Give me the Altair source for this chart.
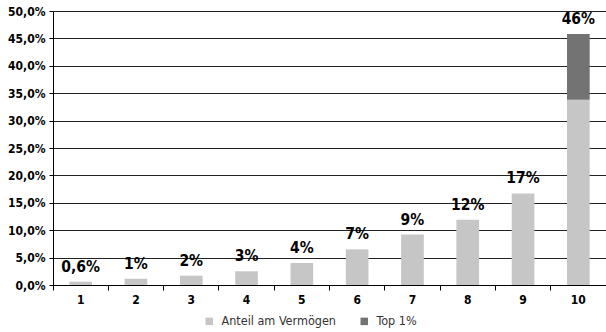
import altair as alt
import pandas as pd

deciles = ["1", "2", "3", "4", "5", "6", "7", "8", "9", "10"]
anteil = [0.6, 1.15, 1.7, 2.5, 4.0, 6.5, 9.2, 11.9, 16.7, 33.8]
top1 = [0, 0, 0, 0, 0, 0, 0, 0, 0, 12.0]
labels = ["0,6%", "1%", "2%", "3%", "4%", "7%", "9%", "12%", "17%", "46%"]
series = ["Anteil am Vermögen", "Top 1%"]
colors = ["#c6c6c6", "#737373"]
y_ticks = [0, 0.05, 0.10, 0.15, 0.20, 0.25, 0.30, 0.35, 0.40, 0.45, 0.50]

FONT = "'Liberation Sans Narrow', 'DejaVu Sans Condensed', 'Roboto Condensed', 'Arial Narrow', 'Roboto', sans-serif"

rows = []
for d, a, t in zip(deciles, anteil, top1):
    rows.append({"dezil": d, "serie": series[0], "wert": a / 100, "ord": 0})
    if t > 0:
        rows.append({"dezil": d, "serie": series[1], "wert": t / 100, "ord": 1})
df = pd.DataFrame(rows)
lab = pd.DataFrame({
    "dezil": deciles,
    "total": [(a + t) / 100 for a, t in zip(anteil, top1)],
    "label": labels,
})

x_axis = alt.Axis(title=None, labelAngle=0, bandPosition=0, tickSize=5,
                  tickColor="black", domainColor="black", labelFont=FONT,
                  labelFontWeight="bold", labelFontSize=12, labelColor="black",
                  labelPadding=4, grid=False)
y_axis = alt.Axis(title=None, values=y_ticks, tickSize=4, labelOverlap=False,
                  tickColor="black", domainColor="black",
                  gridColor="#222222", gridOpacity=1,
                  labelExpr="replace(format(datum.value, '.1%'), '.', ',')",
                  labelFont=FONT, labelFontWeight="bold",
                  labelFontSize=12, labelColor="black", labelPadding=4)
y_scale = alt.Scale(domain=[0, 0.5], nice=False)
x_scale = alt.Scale(paddingInner=0, paddingOuter=0)

bars = alt.Chart(df).mark_bar(width={"band": 0.41}).encode(
    x=alt.X("dezil:N", sort=deciles, scale=x_scale, axis=x_axis),
    y=alt.Y("wert:Q", stack="zero", scale=y_scale, axis=y_axis),
    color=alt.Color("serie:N", scale=alt.Scale(domain=series, range=colors),
                    legend=alt.Legend(title=None, orient="none", direction="horizontal",
                                      legendX=150, legendY=304, symbolType="square",
                                      symbolSize=56, symbolStrokeWidth=0,
                                      labelFont=FONT, labelFontSize=12.5,
                                      labelColor="#333333", columnPadding=22,
                                      labelOffset=6)),
    order=alt.Order("ord:Q"),
)

text = alt.Chart(lab).mark_text(
    baseline="bottom", dy=-7, font=FONT, fontWeight="bold", fontSize=15.5, color="black"
).encode(
    x=alt.X("dezil:N", sort=deciles, scale=x_scale, axis=x_axis),
    y=alt.Y("total:Q", scale=y_scale, axis=y_axis),
    text="label:N",
)

chart = (bars + text).properties(
    width=553, height=274,
    padding={"left": 53, "top": 11, "right": 0, "bottom": 47},
    autosize=alt.AutoSizeParams(type="none"),
).configure_view(stroke=None).configure(background="white")

chart.save("out.html", embed_options={"renderer": "svg", "actions": False})
